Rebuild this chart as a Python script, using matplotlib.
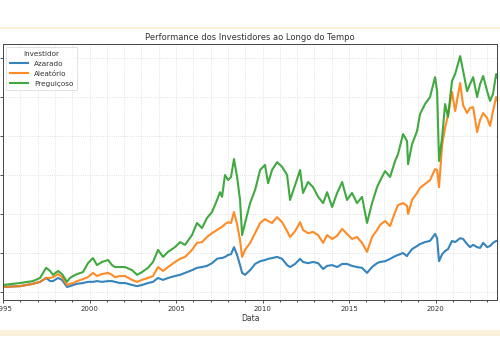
import numpy as np
import pandas as pd
import matplotlib
matplotlib.use('Agg')
from matplotlib import pyplot as plt
from matplotlib import dates as mdates
from matplotlib import rcParams

rcParams['font.family'] = 'DejaVu Sans'

# decimal years of the read-off points
years = [1995.00, 1995.98, 1996.73, 1997.14, 1997.49, 1997.72, 1997.89, 1998.18, 1998.41, 1998.70,
         1998.87, 1999.05, 1999.28, 1999.62, 1999.91, 2000.20, 2000.43, 2000.72, 2001.07, 2001.30,
         2001.47, 2001.76, 2002.05, 2002.46, 2002.75, 2003.03, 2003.38, 2003.67, 2003.96, 2004.25,
         2004.54, 2004.94, 2005.23, 2005.52, 2005.92, 2006.21, 2006.50, 2006.79, 2007.08, 2007.37,
         2007.54, 2007.66, 2007.83, 2008.01, 2008.18, 2008.35, 2008.53, 2008.70, 2008.82, 2008.99,
         2009.28, 2009.57, 2009.86, 2010.14, 2010.32, 2010.55, 2010.84, 2011.13, 2011.42, 2011.59,
         2011.88, 2012.17, 2012.34, 2012.63, 2012.92, 2013.21, 2013.50, 2013.73, 2014.02, 2014.31,
         2014.60, 2014.88, 2015.17, 2015.46, 2015.75, 2016.04, 2016.33, 2016.62, 2016.79, 2017.08,
         2017.37, 2017.66, 2017.83, 2018.12, 2018.35, 2018.41, 2018.64, 2018.93, 2019.10, 2019.39,
         2019.68, 2019.97, 2020.09, 2020.20, 2020.38, 2020.55, 2020.72, 2020.95, 2021.13, 2021.42,
         2021.59, 2021.82, 2021.99, 2022.17, 2022.40, 2022.57, 2022.75, 2022.98, 2023.15, 2023.32,
         2023.50, 2023.55]

# portfolio values (thousands)
azarado = [13, 15, 21, 26, 36, 28, 28, 36, 31, 13,
           15, 18, 21, 23, 26, 26, 28, 26, 28, 28,
           26, 23, 23, 18, 15, 18, 23, 26, 36, 31,
           36, 41, 44, 49, 56, 62, 64, 67, 74, 85,
           87, 87, 90, 95, 97, 115, 95, 69, 49, 44,
           56, 72, 79, 82, 85, 87, 90, 85, 69, 64,
           72, 85, 77, 74, 77, 74, 59, 67, 69, 64,
           72, 72, 67, 64, 62, 49, 64, 74, 77, 79,
           85, 92, 95, 100, 92, 97, 110, 118, 123, 128,
           131, 149, 138, 79, 97, 105, 110, 131, 128, 138,
           136, 123, 115, 121, 115, 113, 126, 115, 118, 126,
           131, 131]

aleatorio = [13, 15, 21, 26, 36, 36, 38, 46, 38, 18,
             21, 23, 28, 33, 38, 49, 41, 46, 49, 44,
             38, 41, 41, 31, 26, 31, 36, 41, 64, 54,
             64, 77, 85, 90, 108, 126, 128, 141, 151, 159,
             164, 167, 174, 179, 177, 205, 174, 133, 90, 108,
             126, 151, 177, 187, 182, 177, 192, 179, 156, 141,
             156, 179, 159, 151, 154, 146, 126, 146, 136, 144,
             162, 149, 136, 141, 126, 103, 141, 159, 172, 182,
             169, 205, 223, 228, 221, 200, 236, 254, 267, 277,
             287, 315, 313, 269, 377, 421, 454, 513, 464, 536,
             479, 459, 472, 474, 410, 441, 459, 446, 426, 464,
             500, 492]

preguicoso = [18, 23, 28, 36, 62, 54, 44, 54, 46, 26,
              36, 41, 46, 51, 74, 87, 69, 77, 82, 69,
              64, 64, 64, 56, 44, 51, 62, 77, 108, 90,
              103, 115, 128, 121, 146, 177, 164, 190, 205, 236,
              256, 244, 300, 287, 295, 341, 295, 236, 146, 177,
              228, 262, 313, 326, 279, 313, 333, 321, 300, 236,
              274, 313, 254, 282, 269, 244, 228, 256, 218, 254,
              282, 236, 254, 228, 244, 177, 228, 269, 285, 310,
              295, 336, 354, 405, 387, 328, 379, 413, 456, 482,
              500, 551, 515, 336, 397, 482, 449, 541, 559, 605,
              567, 515, 533, 551, 500, 533, 554, 515, 490, 508,
              559, 551]

series_names = ['Azarado', 'Aleatório', 'Preguiçoso']
series_colors = ['#1f77b4', '#ff7f0e', '#2ca02c']


def to_date(y):
    yr = int(y)
    return pd.Timestamp(yr, 1, 1) + pd.Timedelta(days=(y - yr) * 365.25)


dates = [to_date(y) for y in years]

#%%
fig = plt.figure(figsize=(5, 3.5), dpi=100)
# page background strips of the original screenshot
fig.add_artist(plt.Rectangle((0, 1 - 29/350), 1, 2/350, transform=fig.transFigure,
                             color='#fdf1dc', lw=0))
fig.add_artist(plt.Rectangle((0, 1 - 336/350), 1, 6/350, transform=fig.transFigure,
                             color='#fdf1dc', lw=0))

ax = fig.add_axes([3/500, 1 - 300/350, 494/500, 256/350])
for vals, name, col in zip([azarado, aleatorio, preguicoso], series_names, series_colors):
    ax.plot(dates, vals, color=col, lw=1.5, alpha=0.9, label=name)

ax.set_xlim(to_date(1995.0), to_date(2023.55))
ax.set_ylim(-20.5, 636)
ax.set_yticks(np.arange(0, 601, 100))
ax.set_yticklabels([])

ax.xaxis.set_major_locator(mdates.YearLocator(5))
ax.xaxis.set_minor_locator(mdates.YearLocator(1))
ax.xaxis.set_major_formatter(mdates.DateFormatter('%Y'))

ax.grid(True, which='both', color='#d8d8d8', linestyle=':', linewidth=0.6)
ax.tick_params(labelsize=5, colors='#333333', length=2.5, width=0.6, pad=1.5)
ax.tick_params(which='minor', length=1.5, width=0.5)
for sp in ax.spines.values():
    sp.set_linewidth(0.7)
    sp.set_color('#444444')

ax.set_title('Performance dos Investidores ao Longo do Tempo', fontsize=6,
             color='#333333', pad=3)
ax.set_xlabel('Data', fontsize=5.5, color='#333333', labelpad=2)

leg = ax.legend(title='Investidor', loc='upper left', fontsize=5.2, title_fontsize=5.2,
                frameon=True, borderpad=0.5, handlelength=2.6, labelspacing=0.55,
                borderaxespad=0.4)
leg.get_frame().set_linewidth(0.5)
for t in leg.get_texts():
    t.set_color('#333333')
leg.get_title().set_color('#333333')

fig.savefig('out.png', dpi=100)
